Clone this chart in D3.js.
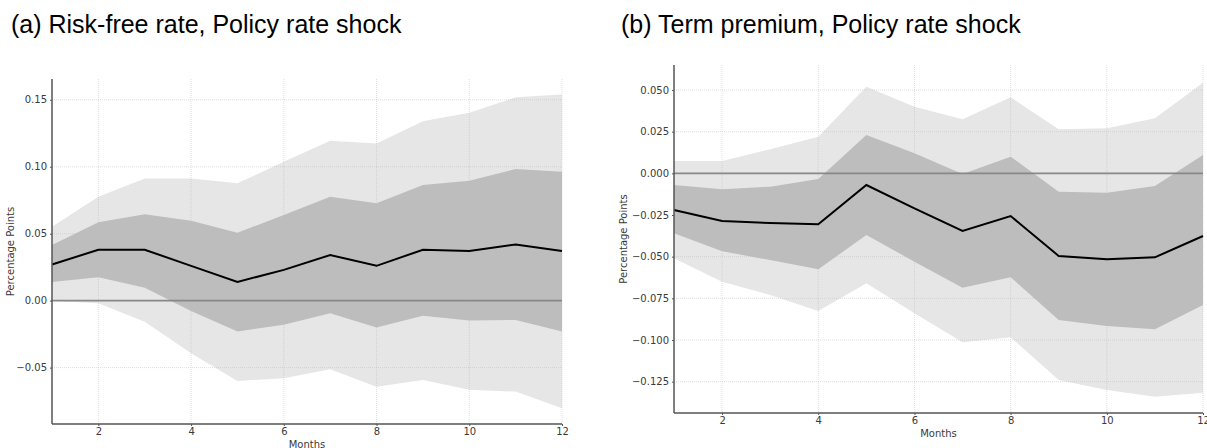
<!DOCTYPE html>
<html>
<head>
<meta charset="utf-8">
<script src="https://cdn.jsdelivr.net/npm/d3@7"></script>
<style>
  body { margin: 0; background: #fff; }
  svg { display: block; }
  .tick text { font-family: "DejaVu Sans", sans-serif; font-size: 10px; fill: #3a3a3a; }
</style>
</head>
<body>
<div id="chart"></div>
<script>
const months = [1, 2, 3, 4, 5, 6, 7, 8, 9, 10, 11, 12];
const xTicks = [2, 4, 6, 8, 10, 12];

// (a) risk-free rate
const rfMean    = [0.027, 0.038, 0.038, 0.026, 0.014, 0.023, 0.034, 0.026, 0.038, 0.037, 0.042, 0.037];
const rfInnerLo = [0.014, 0.0175, 0.0097, -0.0077, -0.023, -0.018, -0.0094, -0.020, -0.0112, -0.0149, -0.0144, -0.023];
const rfInnerHi = [0.0416, 0.0585, 0.0645, 0.0597, 0.0507, 0.064, 0.0776, 0.0727, 0.0863, 0.0896, 0.0983, 0.0963];
const rfOuterLo = [0.0, -0.002, -0.0157, -0.0393, -0.0599, -0.058, -0.0512, -0.0642, -0.0592, -0.0666, -0.0679, -0.0803];
const rfOuterHi = [0.0552, 0.0776, 0.0913, 0.0913, 0.0876, 0.1037, 0.1194, 0.1174, 0.134, 0.1403, 0.1518, 0.154];
const rfTicks = [-0.05, 0, 0.05, 0.10, 0.15];

// (b) term premium
const tpMean    = [-0.022, -0.0286, -0.0298, -0.0306, -0.007, -0.021, -0.0346, -0.0256, -0.0496, -0.0515, -0.0504, -0.0376];
const tpInnerLo = [-0.036, -0.0468, -0.052, -0.0576, -0.037, -0.053, -0.0686, -0.0624, -0.088, -0.0916, -0.0936, -0.079];
const tpInnerHi = [-0.007, -0.0096, -0.008, -0.0034, 0.023, 0.012, -0.0004, 0.010, -0.011, -0.0116, -0.0076, 0.011];
const tpOuterLo = [-0.051, -0.065, -0.073, -0.0826, -0.066, -0.084, -0.1014, -0.0984, -0.124, -0.130, -0.134, -0.1316];
const tpOuterHi = [0.0074, 0.0074, 0.0144, 0.022, 0.052, 0.040, 0.0324, 0.0456, 0.0264, 0.027, 0.033, 0.0544];
const tpTicks = [-0.125, -0.1, -0.075, -0.05, -0.025, 0, 0.025, 0.05];

const W = 1207, H = 448;
const svg = d3.select('#chart').append('svg')
    .attr('width', W)
    .attr('height', H);

function drawPanel(opt) {
    let x = d3.scaleLinear().domain([1, 12]).range([opt.left, opt.right]);
    let y = d3.scaleLinear().domain(opt.yDomain).range([opt.bottom, opt.top]);
    let g = svg.append('g');

    let band = function (lo, hi) {
        return d3.area()
            .x(function (d, i) { return x(months[i]); })
            .y0(function (d, i) { return y(lo[i]); })
            .y1(function (d, i) { return y(hi[i]); })(months);
    };

    g.append('path').attr('d', band(opt.outerLo, opt.outerHi)).attr('fill', '#e6e6e6');
    g.append('path').attr('d', band(opt.innerLo, opt.innerHi)).attr('fill', '#bdbdbd');

    // grid
    g.append('g').selectAll('line').data(xTicks).enter().append('line')
        .attr('x1', d => x(d)).attr('x2', d => x(d))
        .attr('y1', opt.top).attr('y2', opt.bottom)
        .attr('stroke', '#bbb').attr('stroke-opacity', 0.6)
        .attr('stroke-width', 0.8).attr('stroke-dasharray', '1,1');
    g.append('g').selectAll('line').data(opt.yTicks).enter().append('line')
        .attr('x1', opt.left).attr('x2', opt.right)
        .attr('y1', d => y(d)).attr('y2', d => y(d))
        .attr('stroke', '#bbb').attr('stroke-opacity', 0.6)
        .attr('stroke-width', 0.8).attr('stroke-dasharray', '1,1');

    // zero line
    g.append('line')
        .attr('x1', opt.left).attr('x2', opt.right)
        .attr('y1', y(0)).attr('y2', y(0))
        .attr('stroke', '#888').attr('stroke-width', 1.6);

    g.append('path')
        .attr('d', d3.line()
            .x(function (d, i) { return x(months[i]); })
            .y(function (d, i) { return y(opt.mean[i]); })(months))
        .attr('fill', 'none')
        .attr('stroke', '#000')
        .attr('stroke-width', 2);

    let fmt = d3.format(opt.fmt);
    let yAxis = g.append('g')
        .attr('transform', 'translate(' + opt.left + ',0)')
        .call(d3.axisLeft(y).tickValues(opt.yTicks).tickSize(2).tickPadding(3)
            .tickFormat(d => fmt(d).replace('-', '\u2212')));
    let xAxis = g.append('g')
        .attr('transform', 'translate(0,' + opt.bottom + ')')
        .call(d3.axisBottom(x).tickValues(xTicks).tickSize(2).tickPadding(2));
    [xAxis, yAxis].forEach(function (a) {
        a.select('.domain').attr('stroke', '#555').attr('stroke-width', 1.5);
        a.selectAll('.tick line').attr('stroke', '#555');
    });
    yAxis.select('.domain').attr('d', 'M0,' + opt.bottom + 'V' + opt.top);
    xAxis.select('.domain').attr('d', 'M' + opt.left + ',0H' + opt.right);

    g.append('text')
        .attr('transform', 'translate(' + opt.ylabelX + ',' + ((opt.top + opt.bottom) / 2) + ') rotate(-90)')
        .attr('text-anchor', 'middle')
        .attr('font-family', 'DejaVu Sans, sans-serif')
        .attr('font-size', 10)
        .attr('fill', '#3a3a3a')
        .text('Percentage Points');

    g.append('text')
        .attr('x', (opt.left + opt.right) / 2)
        .attr('y', opt.bottom + 24)
        .attr('text-anchor', 'middle')
        .attr('font-family', 'DejaVu Sans, sans-serif')
        .attr('font-size', 10)
        .attr('fill', '#3a3a3a')
        .text('Months');

    svg.append('text')
        .attr('x', opt.titleX)
        .attr('y', 33)
        .attr('font-family', 'Liberation Sans, Arial, sans-serif')
        .attr('font-size', 25)
        .attr('fill', '#000')
        .text(opt.title);
}

drawPanel({
    title: '(a) Risk-free rate, Policy rate shock', titleX: 11,
    left: 52, right: 562, top: 79, bottom: 424,
    yDomain: [-0.0921, 0.1655], yTicks: rfTicks, fmt: '.2f', ylabelX: 14,
    mean: rfMean, innerLo: rfInnerLo, innerHi: rfInnerHi, outerLo: rfOuterLo, outerHi: rfOuterHi
});

drawPanel({
    title: '(b) Term premium, Policy rate shock', titleX: 621,
    left: 674, right: 1203, top: 65, bottom: 413,
    yDomain: [-0.1438, 0.065], yTicks: tpTicks, fmt: '.3f', ylabelX: 627,
    mean: tpMean, innerLo: tpInnerLo, innerHi: tpInnerHi, outerLo: tpOuterLo, outerHi: tpOuterHi
});
</script>
</body>
</html>
